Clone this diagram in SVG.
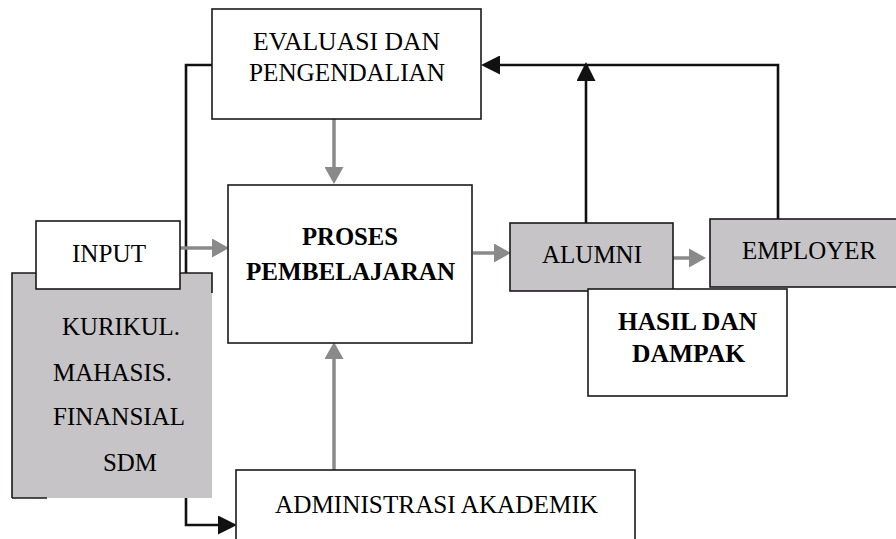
<svg xmlns="http://www.w3.org/2000/svg" width="896" height="539" viewBox="0 0 896 539" font-family="'Times New Roman', 'Liberation Serif', Times, serif">
<style>
.box{fill:#fff;stroke:#1a1a1a;stroke-width:1.6}
.gbox{fill:#c6c4c7;stroke:#1a1a1a;stroke-width:1.6}
.gfill{fill:#c6c4c7}
.edge{fill:none;stroke:#1a1a1a;stroke-width:1.6}
text{font-family:'Times New Roman','Liberation Serif',Times,serif;font-size:26px;fill:#000}
.b{font-weight:bold}
.ga{fill:none;stroke:#8a8a8a;stroke-width:3.5}
.ba{fill:none;stroke:#111;stroke-width:2.6}
</style>
<defs>
<marker id="gh" markerUnits="userSpaceOnUse" markerWidth="17" markerHeight="19" refX="8" refY="9.5" orient="auto" viewBox="0 0 17 19">
<path d="M0,0 L17,9.5 L0,19 z" fill="#8a8a8a"/>
</marker>
<marker id="bh" markerUnits="userSpaceOnUse" markerWidth="19" markerHeight="19" refX="9" refY="9.5" orient="auto" viewBox="0 0 19 19">
<path d="M0,0 L19,9.5 L0,19 z" fill="#111"/>
</marker>
</defs>
<g id="connectors">
<path class="ba" d="M212,65 H186 V525 H227" marker-end="url(#bh)"/>
<path class="ba" d="M778,219 V65 H491" marker-end="url(#bh)"/>
<path class="ba" d="M586,223 V72" marker-end="url(#bh)"/>
<path class="ga" d="M334,119 V175" marker-end="url(#gh)"/>
<path class="ga" d="M334,470 V351" marker-end="url(#gh)"/>
<path class="ga" d="M180,248 H220" marker-end="url(#gh)"/>
<path class="ga" d="M473,253 H502" marker-end="url(#gh)"/>
<path class="ga" d="M673,258 H697" marker-end="url(#gh)"/>
</g>
<g id="evaluasi">
<rect class="box" x="212" y="9" width="269" height="110"/>
<text x="253" y="50" textLength="187" lengthAdjust="spacingAndGlyphs">EVALUASI DAN</text>
<text x="249" y="81" textLength="196" lengthAdjust="spacingAndGlyphs">PENGENDALIAN</text>
</g>
<g id="proses">
<rect class="box" x="228" y="185" width="244" height="158"/>
<text class="b" x="302" y="245" textLength="96" lengthAdjust="spacingAndGlyphs">PROSES</text>
<text class="b" x="246" y="280" textLength="209" lengthAdjust="spacingAndGlyphs">PEMBELAJARAN</text>
</g>
<g id="sumber">
<rect class="gfill" x="12" y="273" width="200" height="225"/>
<path class="edge" d="M12,498 V273 H212 V293 M12,498 H47"/>
<text x="62" y="335" textLength="118" lengthAdjust="spacingAndGlyphs">KURIKUL.</text>
<text x="53" y="381" textLength="119" lengthAdjust="spacingAndGlyphs">MAHASIS.</text>
<text x="53" y="425" textLength="132" lengthAdjust="spacingAndGlyphs">FINANSIAL</text>
<text x="103" y="471" textLength="54" lengthAdjust="spacingAndGlyphs">SDM</text>
</g>
<g id="input">
<rect class="box" x="36" y="221" width="144" height="68"/>
<text x="72" y="262" textLength="74" lengthAdjust="spacingAndGlyphs">INPUT</text>
</g>
<g id="administrasi">
<rect class="box" x="236" y="470" width="399" height="80"/>
<text x="275" y="513" textLength="323" lengthAdjust="spacingAndGlyphs">ADMINISTRASI AKADEMIK</text>
</g>
<g id="alumni">
<rect class="gbox" x="510" y="223" width="163" height="68"/>
<text x="542" y="263" textLength="100" lengthAdjust="spacingAndGlyphs">ALUMNI</text>
</g>
<g id="employer">
<rect class="gbox" x="710" y="219" width="200" height="68"/>
<text x="742" y="259" textLength="134" lengthAdjust="spacingAndGlyphs">EMPLOYER</text>
</g>
<g id="hasil">
<rect class="box" x="588" y="289" width="199" height="107"/>
<text class="b" x="618" y="330" textLength="139" lengthAdjust="spacingAndGlyphs">HASIL DAN</text>
<text class="b" x="632" y="362" textLength="113" lengthAdjust="spacingAndGlyphs">DAMPAK</text>
</g>
</svg>
